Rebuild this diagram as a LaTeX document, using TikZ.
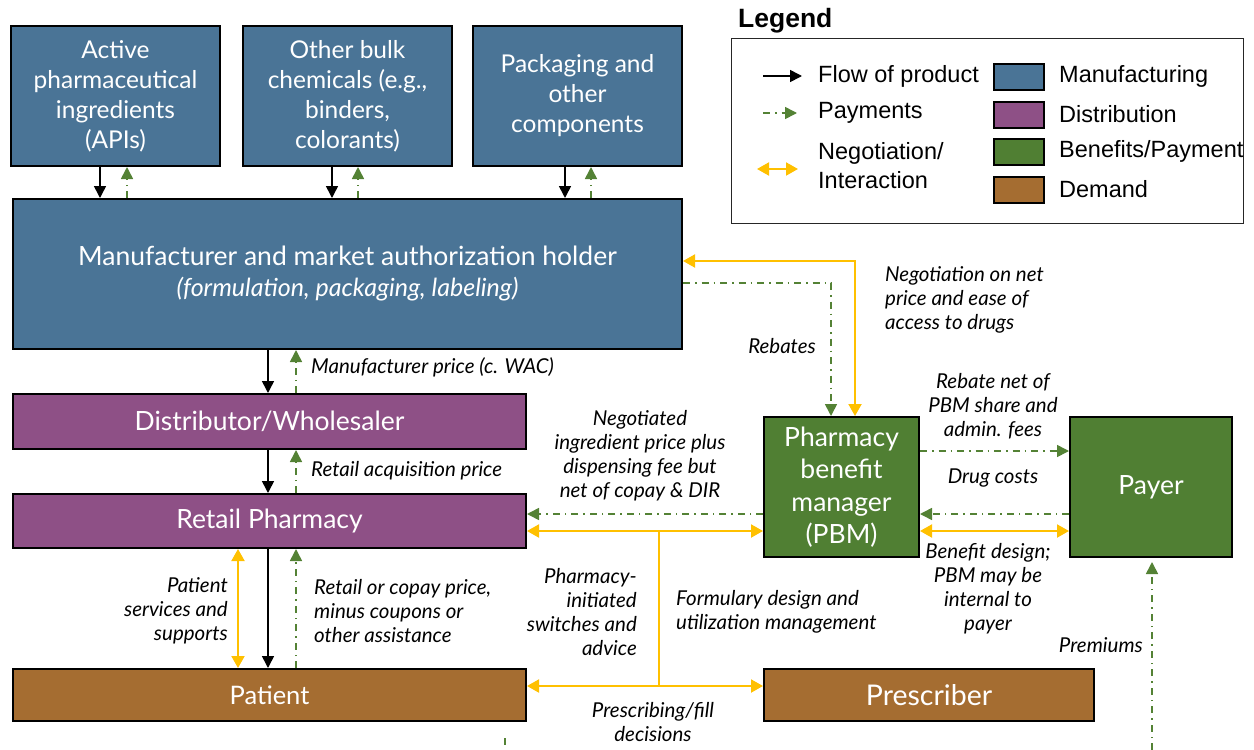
\documentclass[tikz,border=0pt]{standalone}
\usepackage{fontspec}
\setmainfont{Lato}
\newfontfamily\legfont{Liberation Sans}
\usetikzlibrary{arrows.meta}
\definecolor{manu}{RGB}{74,116,150}
\definecolor{dist}{RGB}{142,80,134}
\definecolor{bene}{RGB}{80,127,51}
\definecolor{dem}{RGB}{165,109,49}
\definecolor{pay}{RGB}{84,130,53}
\definecolor{neg}{RGB}{255,192,0}
\begin{document}
\begin{tikzpicture}[x=1pt,y=-1pt,
 box/.style={draw=black, line width=2pt, text=white, align=center, anchor=north west, inner sep=0pt, font=\fontsize{24.5}{30}\selectfont},
 flow/.style={line width=1.6pt, -{Triangle[length=12pt,width=12pt]}},
 paym/.style={pay, line width=1.6pt, dash pattern=on 7pt off 5pt on 1.5pt off 5pt, -{Triangle[length=12pt,width=12pt]}},
 nego/.style={neg, line width=2pt, {Triangle[length=12pt,width=13pt]}-{Triangle[length=12pt,width=13pt]}},
 lab/.style={font=\fontsize{20.5}{24}\selectfont\itshape, align=center, inner sep=0pt},
 swatch/.style={draw=black, line width=1.5pt, minimum width=50pt, minimum height=26pt, anchor=north west, inner sep=0pt},
 legtext/.style={font=\legfont\fontsize{23.5}{29}\selectfont, anchor=west, align=left, inner sep=0pt},
]
\useasboundingbox (0,0) rectangle (1254,750);
% top boxes
\node[box, fill=manu, minimum width=209pt, minimum height=140pt] (api) at (10,25) {Active\\pharmaceutical\\ingredients\\(APIs)};
\node[box, fill=manu, minimum width=209pt, minimum height=140pt] (bulk) at (242,25) {Other bulk\\chemicals (e.g.,\\binders,\\colorants)};
\node[box, fill=manu, minimum width=209pt, minimum height=140pt] (pack) at (472,25) {Packaging and\\other\\components};
\node[box, fill=manu, minimum width=669pt, minimum height=150pt, font=\fontsize{26.5}{31}\selectfont] (manu) at (12,198) {Manufacturer and market authorization holder\\{\fontsize{25}{28}\selectfont\itshape (formulation, packaging, labeling)}};
\node[box, fill=dist, minimum width=513pt, minimum height=55pt, font=\fontsize{26.5}{30}\selectfont] (dist) at (12,393) {Distributor/Wholesaler};
\node[box, fill=dist, minimum width=513pt, minimum height=54pt, font=\fontsize{26.5}{30}\selectfont] (retail) at (12,493) {Retail Pharmacy};
\node[box, fill=dem, minimum width=513pt, minimum height=52pt, font=\fontsize{25.5}{30}\selectfont] (patient) at (12,668) {Patient};
\node[box, fill=dem, minimum width=330pt, minimum height=52pt, font=\fontsize{28.5}{30}\selectfont] (presc) at (763,668) {Prescriber};
\node[box, fill=bene, minimum width=155pt, minimum height=140pt, font=\fontsize{26.5}{32.5}\selectfont] (pbm) at (763,416) {Pharmacy\\benefit\\manager\\(PBM)};
\node[box, fill=bene, minimum width=162pt, minimum height=140pt, font=\fontsize{26.5}{30}\selectfont] (payer) at (1069,416) {Payer};

% top arrows
\draw[flow] (100,0 |- api.south) -- (100,0 |- manu.north);
\draw[paym] (127,0 |- manu.north) -- (127,0 |- api.south);
\draw[flow] (332,0 |- bulk.south) -- (332,0 |- manu.north);
\draw[paym] (358,0 |- manu.north) -- (358,0 |- bulk.south);
\draw[flow] (565,0 |- pack.south) -- (565,0 |- manu.north);
\draw[paym] (591,0 |- manu.north) -- (591,0 |- pack.south);

% vertical chain
\draw[flow] (268,0 |- manu.south) -- (268,0 |- dist.north);
\draw[paym] (296,0 |- dist.north) -- (296,0 |- manu.south);
\draw[flow] (268,0 |- dist.south) -- (268,0 |- retail.north);
\draw[paym] (296,0 |- retail.north) -- (296,0 |- dist.south);
\draw[nego] (238,0 |- retail.south) -- (238,0 |- patient.north);
\draw[flow] (268,0 |- retail.south) -- (268,0 |- patient.north);
\draw[paym] (296,0 |- patient.north) -- (296,0 |- retail.south);

% manufacturer - PBM
\draw[nego] (manu.east |- 0,261) -| (855,0 |- pbm.north);
\draw[paym] (manu.east |- 0,283) -| (831,0 |- pbm.north);

% PBM - retail
\draw[paym] (pbm.west |- 0,514) -- (retail.east |- 0,514);
\draw[nego] (retail.east |- 0,531) -- (pbm.west |- 0,531);
\draw[nego] (patient.east |- 0,686) -- (presc.west |- 0,686);
\coordinate (jtop) at (659,531);
\coordinate (jbot) at (659,686);
\draw[neg, line width=2pt] (jtop) -- (jbot);

% PBM - payer
\draw[paym] (pbm.east |- 0,451) -- (payer.west |- 0,451);
\draw[paym] (payer.west |- 0,514) -- (pbm.east |- 0,514);
\draw[nego] (pbm.east |- 0,531) -- (payer.west |- 0,531);
\coordinate (prem) at (1152,750);
\draw[paym, shorten >=4pt] (prem) -- (1152,0 |- payer.south);
\coordinate (stubA) at (505,738);
\coordinate (stubB) at (505,752);
\draw[paym, -] (stubA) -- (stubB);

% labels
\node[lab, anchor=west] (l1) at (311,367) {Manufacturer price (c. WAC)};
\node[lab, anchor=west] (l2) at (311,471) {Retail acquisition price};
\node[lab, anchor=east, align=right] (l3) at (228,611) {Patient\\services and\\supports};
\node[lab, anchor=west, align=left] (l4) at (314,611) {Retail or copay price,\\minus coupons or\\other assistance};
\node[lab] (l5) at (640,456) {Negotiated\\ingredient price plus\\dispensing fee but\\net of copay \& DIR};
\node[lab, anchor=east, align=right] (l6) at (637,612) {Pharmacy-\\initiated\\switches and\\advice};
\node[lab, anchor=west, align=left] (l7) at (676,612) {Formulary design and\\utilization management};
\node[lab] (l8) at (653,722) {Prescribing/fill\\decisions};
\node[lab] (l9) at (782,346) {Rebates};
\node[lab, anchor=west, align=left] (l10) at (885,300) {Negotiation on net\\price and ease of\\access to drugs};
\node[lab] (l11) at (993,406) {Rebate net of\\PBM share and\\admin. fees};
\node[lab] (l12) at (993,478) {Drug costs};
\node[lab] (l13) at (988,589) {Benefit design;\\PBM may be\\internal to\\payer};
\node[lab, anchor=east] (l14) at (1143,645) {Premiums};

% legend
\node[font=\legfont\bfseries\fontsize{26.5}{30}\selectfont, anchor=west, inner sep=0pt] (legtitle) at (738,21) {Legend};
\node[draw=black!85, line width=1.2pt, minimum width=512pt, minimum height=185pt, anchor=north west, inner sep=0pt] (legbox) at (731,38) {};
\coordinate (la1) at (763,76); \coordinate (lb1) at (802,76);
\draw[flow] (la1) -- (lb1);
\node[legtext] (lt1) at (818,76) {Flow of product};
\coordinate (la2) at (763,113); \coordinate (lb2) at (797,113);
\draw[paym] (la2) -- (lb2);
\node[legtext] (lt2) at (818,113) {Payments};
\coordinate (la3) at (757,169); \coordinate (lb3) at (798,169);
\draw[nego] (la3) -- (lb3);
\node[legtext] (lt3) at (818,166) {Negotiation/\\Interaction};
\node[swatch, fill=manu] (s1) at (993,63) {};
\node[swatch, fill=dist] (s2) at (993,101) {};
\node[swatch, fill=bene] (s3) at (993,138) {};
\node[swatch, fill=dem] (s4) at (993,176) {};
\node[legtext] (st1) at (1059,76) {Manufacturing};
\node[legtext] (st2) at (1059,114) {Distribution};
\node[legtext] (st3) at (1059,151) {Benefits/Payment};
\node[legtext] (st4) at (1059,189) {Demand};
\end{tikzpicture}
\end{document}
